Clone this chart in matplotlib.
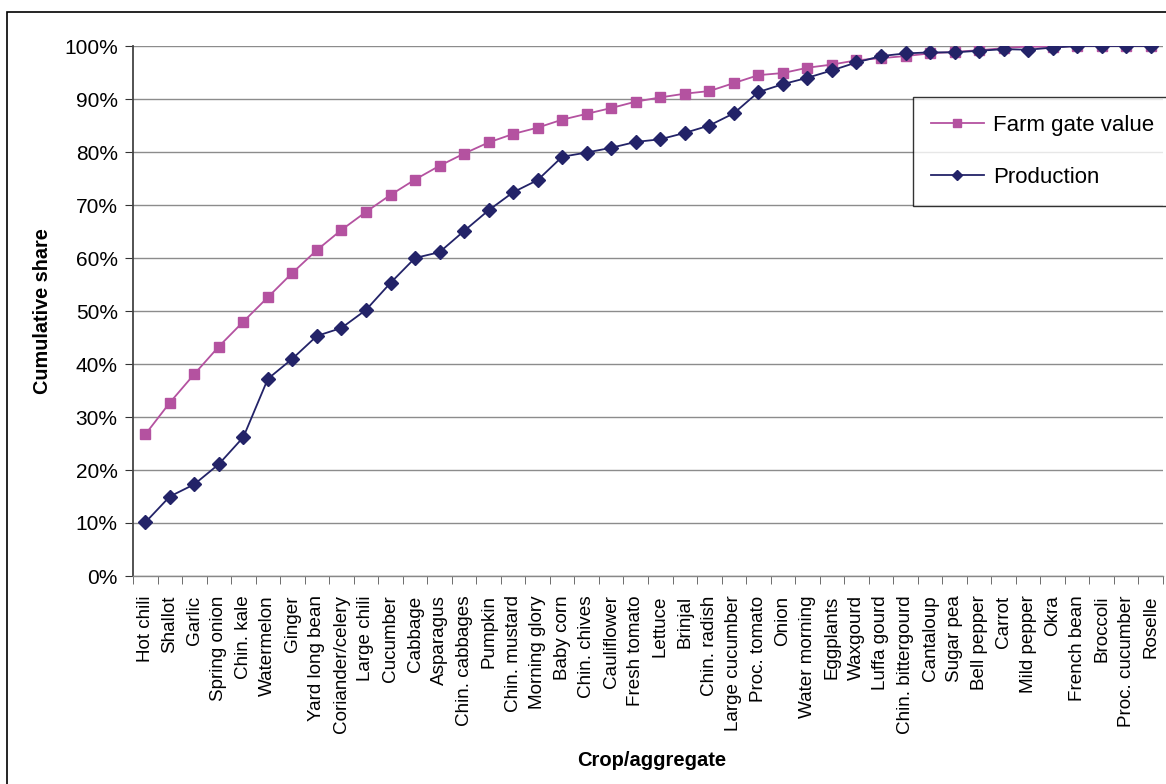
import matplotlib
matplotlib.use("Agg")
import matplotlib.pyplot as plt
from matplotlib.patches import Rectangle
from matplotlib.ticker import FuncFormatter, MultipleLocator

plt.rcParams['font.family'] = ['Liberation Sans', 'DejaVu Sans']

crops = ["Hot chili", "Shallot", "Garlic", "Spring onion", "Chin. kale", "Watermelon",
         "Ginger", "Yard long bean", "Coriander/celery", "Large chili", "Cucumber",
         "Cabbage", "Asparagus", "Chin. cabbages", "Pumpkin", "Chin. mustard",
         "Morning glory", "Baby corn", "Chin. chives", "Cauliflower", "Fresh tomato",
         "Lettuce", "Brinjal", "Chin. radish", "Large cucumber", "Proc. tomato", "Onion",
         "Water morning", "Eggplants", "Waxgourd", "Luffa gourd", "Chin. bittergourd",
         "Cantaloup", "Sugar pea", "Bell pepper", "Carrot", "Mild pepper", "Okra",
         "French bean", "Broccoli", "Proc. cucumber", "Roselle"]

farm_gate_value = [26.7, 32.7, 38.1, 43.3, 48.0, 52.6, 57.2, 61.5, 65.3, 68.7, 71.9,
                   74.8, 77.4, 79.7, 81.8, 83.4, 84.6, 86.1, 87.2, 88.3, 89.5,
                   90.3, 91.0, 91.5, 93.0, 94.5, 94.9, 95.9, 96.5, 97.3, 97.7,
                   98.1, 98.6, 98.9, 99.2, 99.6, 99.9, 99.8, 100.0, 100.0, 100.0, 100.0]

production = [10.1, 15.0, 17.3, 21.1, 26.2, 37.2, 41.0, 45.3, 46.8, 50.2, 55.3,
              60.0, 61.1, 65.1, 69.0, 72.4, 74.7, 79.1, 79.9, 80.8, 81.9,
              82.4, 83.6, 85.0, 87.3, 91.3, 92.8, 94.0, 95.4, 96.9, 98.1,
              98.6, 98.8, 98.8, 99.1, 99.4, 99.3, 99.7, 100.0, 100.0, 100.0, 100.0]

W, H = 1166, 784
fig = plt.figure(figsize=(W / 100, H / 100), dpi=100)
ax = fig.add_axes([133 / W, 1 - 576 / H, (1163 - 133) / W, (576 - 46) / H])

x = list(range(len(crops)))
ax.plot(x, farm_gate_value, color='#B452A0', lw=1.3, marker='s', ms=7.5,
        mfc='#B452A0', mec='#B452A0', label='Farm gate value', zorder=3)
ax.plot(x, production, color='#232368', lw=1.3, marker='D', ms=7,
        mfc='#232368', mec='#232368', label='Production', zorder=4)

ax.set_xlim(-0.5, len(crops) - 0.5)
ax.set_ylim(0, 100)
ax.yaxis.set_major_locator(MultipleLocator(10))
ax.yaxis.set_major_formatter(FuncFormatter(lambda v, p: f"{int(round(v))}%"))
ax.grid(axis='y', color='#8c8c8c', lw=1.0)
ax.set_axisbelow(True)

ax.set_xticks(x)
ax.set_xticklabels(crops, rotation=90, fontsize=13.6)
ax.tick_params(axis='x', length=0, pad=14)
ax.set_xticks([i - 0.5 for i in range(len(crops) + 1)], minor=True)
ax.tick_params(axis='x', which='minor', length=6, color='#555555', direction='out')
ax.tick_params(axis='y', labelsize=15, length=6, color='#333333', pad=5)

for s in ['top', 'right']:
    ax.spines[s].set_visible(False)
ax.spines['left'].set_color('#444444')
ax.spines['left'].set_linewidth(1.3)
ax.spines['bottom'].set_color('#888888')
ax.spines['bottom'].set_linewidth(1.0)

fig.text(42 / W, 1 - 311 / H, 'Cumulative share', rotation=90, fontsize=14.3,
         fontweight='bold', ha='center', va='center')
fig.text(652 / W, 1 - 761 / H, 'Crop/aggregate', fontsize=14.5,
         fontweight='bold', ha='center', va='center')

leg = ax.legend(loc='upper left', bbox_to_anchor=(913 / W, 1 - 97 / H),
                bbox_transform=fig.transFigure, fontsize=16, frameon=True,
                fancybox=False, edgecolor='black', handlelength=2.4,
                labelspacing=1.4, borderpad=0.8, borderaxespad=0,
                handletextpad=0.4, markerscale=0.75)
leg.get_frame().set_linewidth(1.0)

fig.patches.append(Rectangle((7 / W, -0.01), 1.05, 1 - 12 / H + 0.01,
                             transform=fig.transFigure, fill=False,
                             edgecolor='black', lw=1.2))

fig.savefig('out.png', dpi=100)
